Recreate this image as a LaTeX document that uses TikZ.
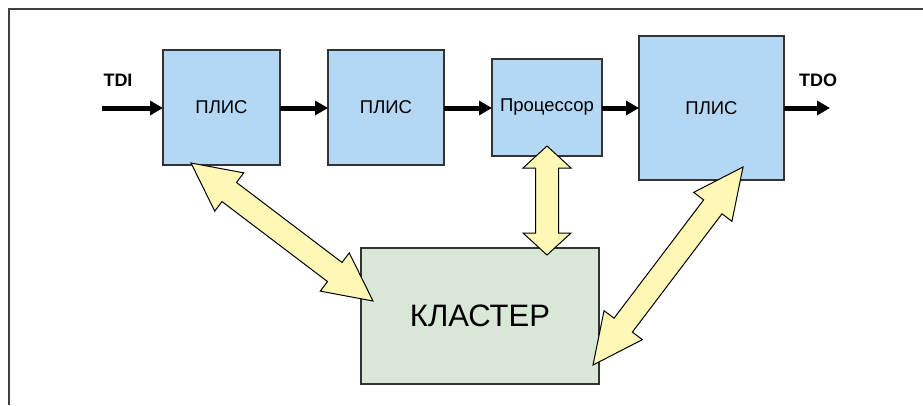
\documentclass[tikz,border=0pt]{standalone}
\usepackage{fontspec}
\setmainfont{Liberation Sans}
\usetikzlibrary{arrows.meta,calc}

\definecolor{boxblue}{RGB}{180,215,243}
\definecolor{boxgreen}{RGB}{217,231,214}
\definecolor{busyellow}{RGB}{255,248,181}
\definecolor{edgegray}{RGB}{51,51,51}
\definecolor{framegray}{RGB}{64,64,64}

% Wide double-headed bus arrow: from, to, head length, head half-width, shaft half-width
\newcommand\busarrow[5]{%
  \coordinate (ha) at ($(#1)!#3!(#2)$);
  \coordinate (hb) at ($(#2)!#3!(#1)$);
  \draw[bus] (#1)
    -- ($(ha)!#4!90:(#2)$) -- ($(ha)!#5!90:(#2)$)
    -- ($(hb)!#5!-90:(#1)$) -- ($(hb)!#4!-90:(#1)$)
    -- (#2)
    -- ($(hb)!#4!90:(#1)$) -- ($(hb)!#5!90:(#1)$)
    -- ($(ha)!#5!-90:(#2)$) -- ($(ha)!#4!-90:(#2)$)
    -- cycle;}

\tikzset{
  chip/.style={draw=edgegray, line width=1.2pt, fill=boxblue, inner sep=0pt,
    outer sep=0pt, font=\fontsize{18.5}{20}\selectfont},
  cluster/.style={draw=edgegray, line width=1.2pt, fill=boxgreen, inner sep=0pt,
    outer sep=0pt, font=\fontsize{31}{33}\selectfont},
  chain/.style={line width=5pt, -{Triangle[length=13pt,width=14pt]}},
  bus/.style={draw=black, line width=1pt, line join=miter, fill=busyellow},
  pin/.style={font=\bfseries\fontsize{18}{20}\selectfont}
}

\begin{document}
\begin{tikzpicture}[x=1pt, y=-1pt]
\useasboundingbox (0,0) rectangle (923,405);

% cropped outer frame
\draw[framegray, line width=1.6pt] (9,405) -- (9,9) -- (923,9);

% JTAG chain devices
\node[chip, minimum width=117pt, minimum height=115pt] (fpga1) at (221.5,107.5) {ПЛИС};
\node[chip, minimum width=116pt, minimum height=115pt] (fpga2) at (386,107.5) {ПЛИС};
\node[chip, minimum width=110pt, minimum height=97pt]  (cpu)   at (547,107.5) {Процессор};
\node[chip, minimum width=145pt, minimum height=144pt] (fpga3) at (711.5,108) {ПЛИС};
\node[cluster, minimum width=238pt, minimum height=136pt] (clu) at (480,316) {КЛАСТЕР};

% chain inputs and outputs
\coordinate (tdiin) at (102,108);
\coordinate (tdoout) at (830,108);
\node[pin] (tdi) at (118,80) {TDI};
\node[pin] (tdo) at (818,80) {TDO};

\draw[chain] (tdiin) -- (fpga1.west |- tdiin);
\draw[chain] (fpga1.east |- tdiin) -- (fpga2.west |- tdiin);
\draw[chain] (fpga2.east |- tdiin) -- (cpu.west |- tdiin);
\draw[chain] (cpu.east |- tdiin) -- (fpga3.west |- tdiin);
\draw[chain] (fpga3.east |- tdoout) -- (tdoout);

% bus ends
\coordinate (b1a) at (191,163);
\coordinate (b1b) at (373,301);
\coordinate (b2a) at (547,146);
\coordinate (b2b) at (547,255);
\coordinate (b3a) at (743,167);
\coordinate (b3b) at (593,365);

\busarrow{b1a}{b1b}{48pt}{24pt}{12pt}
\busarrow{b2a}{b2b}{22pt}{24pt}{11.5pt}
\busarrow{b3a}{b3b}{50pt}{24pt}{11.5pt}
\end{tikzpicture}
\end{document}
